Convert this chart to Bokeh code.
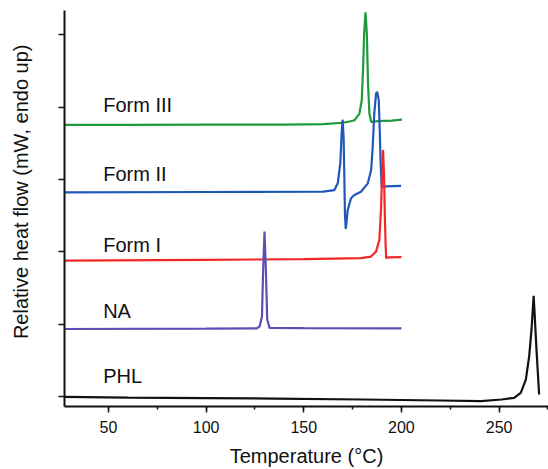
from bokeh.plotting import figure
from bokeh.models import Range1d, SingleIntervalTicker, FixedTicker
from bokeh.core.properties import value
from bokeh.embed import file_html
from bokeh.resources import INLINE

# ---- data (temperature in °C, relative heat flow in arbitrary offset units) ----
form3_t = [27.5, 60, 100, 140, 160, 170, 174, 176, 178.5, 179.7, 180.4, 180.9, 181.6,
           182.3, 182.9, 183.6, 184.5, 188, 195, 200.3]
form3_y = [3.756, 3.757, 3.759, 3.760, 3.766, 3.786, 3.807, 3.821, 3.913, 4.097, 4.556,
           5.017, 5.314, 5.017, 4.327, 3.913, 3.797, 3.807, 3.814, 3.828]

form2_t = [27.5, 100, 160, 165.7, 167.4, 168.7, 169.4, 169.9, 170.4, 170.8, 171.1, 171.5,
           172.0, 172.5, 174.2, 175.9, 179.3, 182.8, 184.5, 185.3, 186.1, 187.0, 187.6,
           188.4, 188.9, 189.4, 189.9, 192, 199.8]
form2_y = [2.823, 2.828, 2.834, 2.855, 2.948, 3.223, 3.641, 3.828, 3.590, 2.993, 2.510,
           2.317, 2.441, 2.579, 2.741, 2.786, 2.832, 2.948, 3.131, 3.452, 3.913, 4.189,
           4.211, 4.097, 3.683, 3.200, 2.901, 2.906, 2.914]

form1_t = [27.5, 100, 150, 179.3, 184.4, 187, 188.7, 189.6, 190.1, 190.6, 191.1, 191.5,
           191.9, 192.2, 193, 200]
form1_y = [1.880, 1.890, 1.899, 1.913, 1.935, 2.004, 2.166, 2.625, 3.086, 3.407, 3.062,
           2.510, 2.097, 1.913, 1.924, 1.927]

na_t = [27.5, 100, 126, 127.4, 128.6, 129.2, 129.9, 130.6, 131.3, 132.5, 150, 200]
na_y = [0.934, 0.938, 0.942, 0.970, 1.108, 1.752, 2.280, 1.752, 1.062, 0.948, 0.945, 0.942]

phl_t = [27.5, 60, 100, 135, 180, 220, 240.7, 251.3, 257.7, 261.1, 263.7, 265.4, 266.6,
         267.7, 268.3, 269.2, 270.5]
phl_y = [-0.004, -0.014, -0.021, -0.028, -0.041, -0.055, -0.065, -0.041, -0.018, 0.051,
         0.234, 0.556, 0.924, 1.393, 1.090, 0.625, 0.028]

series_names = ["Form III", "Form II", "Form I", "NA", "PHL"]
series_colors = ["#1e9a3c", "#2158b8", "#f02828", "#5a50b2", "#111111"]
label_x = [47.3, 47.3, 47.3, 47.3, 47.3]
label_y = [4.03, 3.08, 2.10, 1.18, 0.28]
y_ticks = [0, 1, 2, 3, 4, 5]

FONT = "Liberation Sans"

p = figure(width=548, height=469,
           x_range=Range1d(27.5, 275.3), y_range=Range1d(-0.138, 5.338),
           output_backend="svg", toolbar_location=None,
           min_border_left=64, min_border_right=0, min_border_top=10, min_border_bottom=62)

p.outline_line_color = None
p.xgrid.visible = False
p.ygrid.visible = False

curves = [(form3_t, form3_y), (form2_t, form2_y), (form1_t, form1_y), (na_t, na_y), (phl_t, phl_y)]
for (t, y), c in zip(curves, series_colors):
    p.line(t, y, line_color=c, line_width=2.2)

p.text(x=label_x, y=label_y, text=series_names, text_font=value(FONT),
       text_font_size="20px", text_color="#111111", text_baseline="alphabetic",
       text_align="left")

# x axis
xa = p.xaxis[0]
xa.ticker = SingleIntervalTicker(interval=50, num_minor_ticks=2)
xa.axis_label = "Temperature (°C)"
xa.axis_label_text_font = FONT
xa.axis_label_text_font_size = "20px"
xa.axis_label_text_font_style = "normal"
xa.axis_label_text_color = "#111111"
xa.axis_label_standoff = 9
xa.major_label_text_font = FONT
xa.major_label_text_font_size = "16px"
xa.major_label_text_color = "#111111"
xa.major_label_standoff = 8
xa.axis_line_width = 2
xa.axis_line_color = "#111111"
xa.major_tick_line_width = 1.5
xa.minor_tick_line_width = 1.5
xa.major_tick_line_color = "#111111"
xa.minor_tick_line_color = "#111111"
xa.major_tick_in = 0
xa.major_tick_out = 6
xa.minor_tick_in = 0
xa.minor_tick_out = 3

# y axis (ticks only, no tick labels); leading no-break spaces lift the centred label
ya = p.yaxis[0]
ya.ticker = FixedTicker(ticks=y_ticks)
ya.major_label_overrides = {t: "" for t in y_ticks}
ya.axis_label = "\u00a0" * 6 + "Relative heat flow (mW, endo up)"
ya.axis_label_text_font = FONT
ya.axis_label_text_font_size = "20px"
ya.axis_label_text_font_style = "normal"
ya.axis_label_text_color = "#111111"
ya.axis_label_standoff = 27
ya.major_label_standoff = 0
ya.axis_line_width = 2
ya.axis_line_color = "#111111"
ya.major_tick_line_width = 1.5
ya.major_tick_line_color = "#111111"
ya.major_tick_in = 0
ya.major_tick_out = 6
ya.minor_tick_line_color = None

open("out.html", "w").write(file_html(p, INLINE))
